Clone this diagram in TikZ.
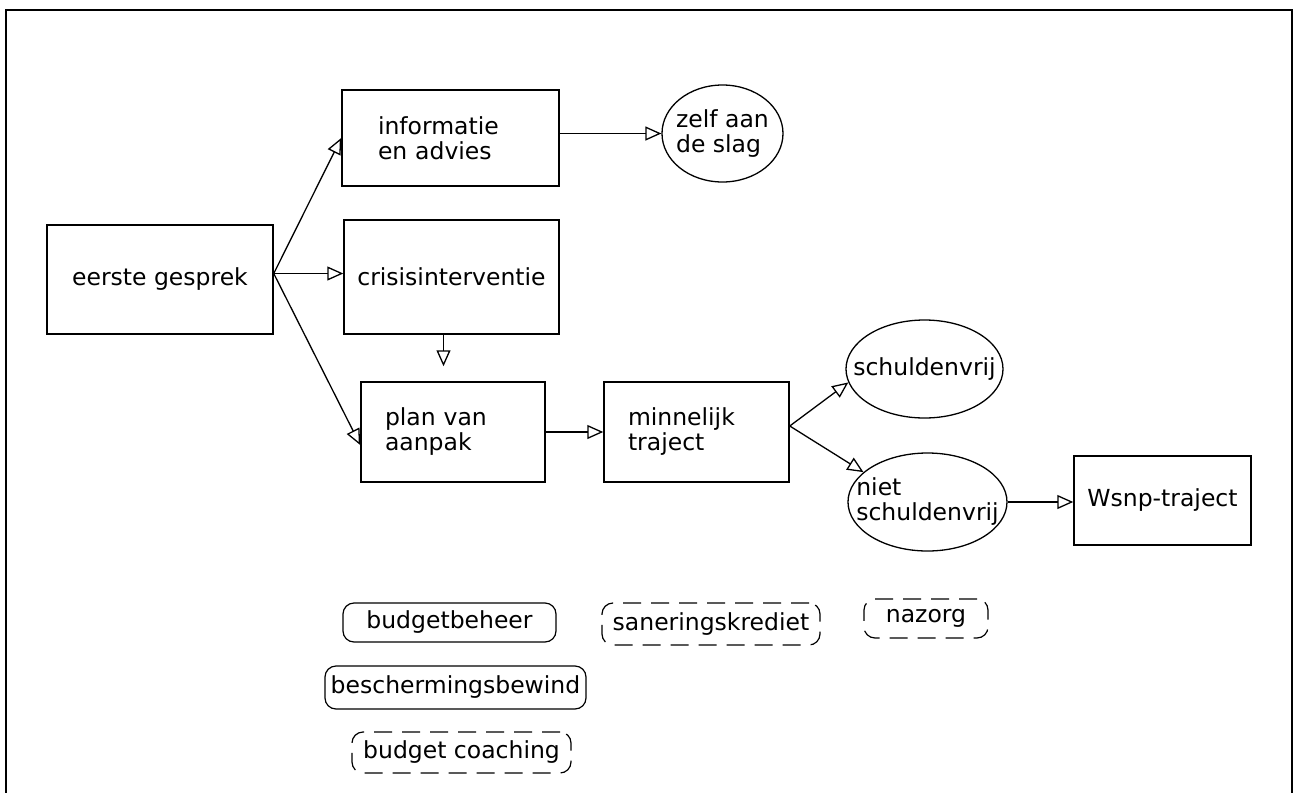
\documentclass[tikz,border=0pt]{standalone}
\usepackage{fontspec}
\setmainfont{DejaVu Sans}
\usepackage{tikz}
\usetikzlibrary{shapes.geometric}
\usetikzlibrary{arrows.meta}

\begin{document}
\begin{tikzpicture}[x=1pt,y=-1pt,
			box/.style={draw,line width=1.5pt,rectangle,inner sep=0pt,font=\fontsize{23.5}{25}\selectfont},
			oval/.style={draw,line width=1.3pt,ellipse,inner sep=0pt},
			ovaltext/.style={font=\fontsize{23.5}{25}\selectfont,align=left,inner sep=0pt},
			tag/.style={draw,line width=1.2pt,rounded corners=11pt,inner sep=0pt,font=\fontsize{23.5}{25}\selectfont},
			dashtag/.style={tag,dash pattern=on 18pt off 10pt},
			pijl/.style={line width=1.3pt,-{Triangle[open,length=16pt,width=14pt]}}]
			\useasboundingbox (0,0) rectangle (1294,793);
			\draw [line width=2.4pt] (6,793) -- (6,10) -- (1292,10) -- (1292,793);
			% boxes
			\node [box,minimum width=226pt,minimum height=109pt] (gesprek) at (160,279.5) {eerste gesprek};
			\node [box,minimum width=217pt,minimum height=96pt,text width=145pt,align=left] (info) at (450.5,138) {informatie\\en advies};
			\node [box,minimum width=215pt,minimum height=114pt] (crisis) at (451.5,277) {crisisinterventie};
			\node [box,minimum width=184pt,minimum height=100pt,text width=136pt,align=left] (plan) at (453,432) {plan van\\aanpak};
			\node [box,minimum width=185pt,minimum height=100pt,text width=137pt,align=left] (minnelijk) at (696.5,432) {minnelijk\\traject};
			\node [box,minimum width=177pt,minimum height=89pt] (wsnp) at (1162.5,500.5) {Wsnp-traject};
			% ellipses
			\node [oval,minimum width=121pt,minimum height=97pt,label={[ovaltext]center:zelf aan\\de slag}] (zelf) at (722.5,133.5) {};
			\node [oval,minimum width=157pt,minimum height=98pt,label={[ovaltext]center:schuldenvrij}] (schuld) at (924.5,369) {};
			\node [oval,minimum width=159pt,minimum height=98pt,label={[ovaltext]center:niet\\schuldenvrij}] (niet) at (927.5,502) {};
			% tags
			\node [tag,minimum width=213pt,minimum height=39pt] (beheer) at (449.5,622.5) {budgetbeheer};
			\node [tag,minimum width=261pt,minimum height=43pt] (bewind) at (455.5,687.5) {beschermingsbewind};
			\node [dashtag,minimum width=219pt,minimum height=41pt] (coaching) at (461.5,752.5) {budget coaching};
			\node [dashtag,minimum width=218pt,minimum height=42pt] (krediet) at (711,624) {saneringskrediet};
			\node [dashtag,minimum width=124pt,minimum height=39pt] (nazorg) at (926,618.5) {nazorg};
			% arrows
			\coordinate (splits) at ([yshift=6pt]gesprek.east);
			\coordinate (crisisvoet) at ([xshift=-8pt]crisis.south);
			\coordinate (splitsing) at ([yshift=6pt]minnelijk.east);
			\draw [pijl] (splits) -- (info.west);
			\draw [pijl] (splits) -- (splits -| crisis.west);
			\draw [pijl] (splits) -- ([yshift=-13pt]plan.west);
			\draw [pijl,shorten >=15pt] (crisisvoet) -- (crisisvoet |- plan.north);
			\draw [pijl] (info.east |- zelf.west) -- (zelf.west);
			\draw [pijl] (plan.east) -- (minnelijk.west);
			\draw [pijl] (splitsing) -- (schuld.190);
			\draw [pijl] (splitsing) -- (niet.155);
			\draw [pijl] (niet.east) -- (niet.east -| wsnp.west);
\end{tikzpicture}
\end{document}
